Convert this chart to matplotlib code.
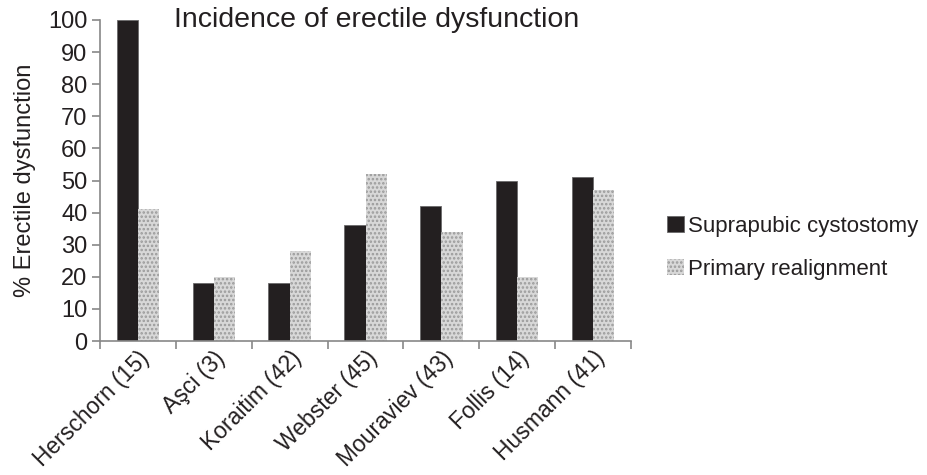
import matplotlib
matplotlib.use("Agg")
import matplotlib.pyplot as plt
import matplotlib.transforms as mtransforms
import numpy as np

plt.rcParams['font.family'] = ['Liberation Sans', 'DejaVu Sans']
plt.rcParams['hatch.color'] = '#8a8a8a'
plt.rcParams['hatch.linewidth'] = 1.2

categories = ["Herschorn (15)", "Aşci (3)", "Koraitim (42)", "Webster (45)",
              "Mouraviev (43)", "Follis (14)", "Husmann (41)"]
suprapubic = [100, 18, 18, 36, 42, 50, 51]
realignment = [41, 20, 28, 52, 34, 20, 47]
series_names = ["Suprapubic cystostomy", "Primary realignment"]
yticks = list(range(0, 101, 10))

fig = plt.figure(figsize=(9.28, 4.75), dpi=100)
ax = fig.add_axes([0.1078, 0.282, 0.5722, 0.676])

x = np.arange(len(categories))
w = 0.28
b1 = ax.bar(x - w/2, suprapubic, w, color='#231f20', edgecolor='#6a6a6a', linewidth=0.6,
            label=series_names[0])
b2 = ax.bar(x + w/2, realignment, w, color='#d8d8d8', edgecolor='#9a9a9a', linewidth=0.0,
            hatch='....', label=series_names[1])

ax.set_xlim(-0.5, len(categories) - 0.5)
ax.set_ylim(0, 100)
ax.set_yticks(yticks)
ax.set_yticklabels([str(t) for t in yticks], fontsize=17, color='#231f20')
ax.set_xticks(np.arange(len(categories) + 1) - 0.5)
ax.set_xticklabels([])
ax.set_xticks(x, minor=True)
ax.set_xticklabels(categories, minor=True, rotation=45, ha='right',
                   rotation_mode='anchor', fontsize=16.5, color='#231f20')
off = mtransforms.ScaledTranslation(-10/72, 0, fig.dpi_scale_trans)
for lab in ax.get_xticklabels(minor=True):
    lab.set_transform(lab.get_transform() + off)
ax.tick_params(axis='x', which='minor', length=0, pad=4)
ax.tick_params(axis='x', which='major', length=6, color='#888888', width=1.2, direction='out')
ax.tick_params(axis='y', length=6, color='#888888', width=1.2, direction='out', pad=3)

for s in ['top', 'right']:
    ax.spines[s].set_visible(False)
for s in ['left', 'bottom']:
    ax.spines[s].set_color('#888888')
    ax.spines[s].set_linewidth(1.2)

ax.set_ylabel("% Erectile dysfunction", fontsize=17, labelpad=9, color='#231f20')
ax.text(0.52, 1.0, "Incidence of erectile dysfunction", transform=ax.transAxes,
        ha='center', va='center', fontsize=20.5, color='#231f20')

leg = fig.legend(handles=[b1, b2], labels=series_names, loc='center left',
                 bbox_to_anchor=(0.719, 0.478), frameon=False, fontsize=16,
                 handlelength=0.75, handleheight=0.75, handletextpad=0.2,
                 labelspacing=1.0, borderaxespad=0, borderpad=0)
for t in leg.get_texts():
    t.set_color('#231f20')

fig.savefig("out.png", dpi=100)
